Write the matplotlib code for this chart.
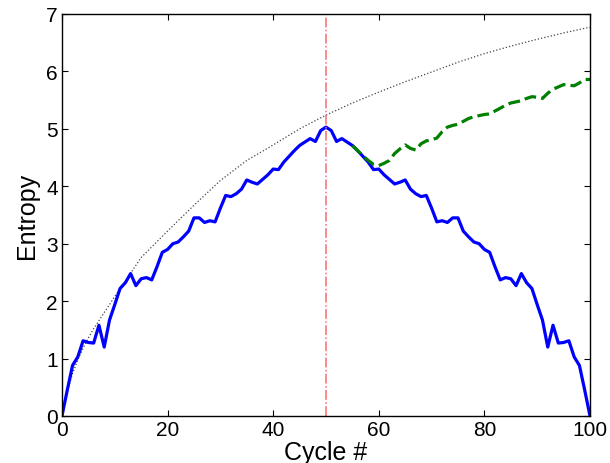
"""
Entropy vs cycle number: measured entropy (blue), continuation after
cycle 55 (green dashed), reference curve (dotted) and midpoint marker.
"""

import matplotlib

matplotlib.use("Agg")
import matplotlib.pyplot as plt

plt.rcParams["font.family"] = ["Liberation Sans", "DejaVu Sans"]

# blue entropy trace, one value per cycle 0..100
cycles = list(range(0, 101))
entropy = [
    0.00, 0.45, 0.88, 1.03, 1.31, 1.28, 1.27, 1.58, 1.20, 1.67,
    1.94, 2.22, 2.32, 2.48, 2.27, 2.39, 2.41, 2.37, 2.60, 2.85,
    2.90, 3.00, 3.03, 3.12, 3.22, 3.45, 3.45, 3.37, 3.40, 3.38,
    3.62, 3.84, 3.82, 3.87, 3.95, 4.11, 4.07, 4.04, 4.12, 4.20,
    4.30, 4.29, 4.42, 4.52, 4.62, 4.71, 4.77, 4.83, 4.78, 4.97,
    5.03,
    4.97, 4.78, 4.83, 4.77, 4.71, 4.62, 4.52, 4.42, 4.29, 4.30,
    4.20, 4.12, 4.04, 4.07, 4.11, 3.95, 3.87, 3.82, 3.84, 3.62,
    3.38, 3.40, 3.37, 3.45, 3.45, 3.22, 3.12, 3.03, 3.00, 2.90,
    2.85, 2.60, 2.37, 2.41, 2.39, 2.27, 2.48, 2.32, 2.22, 1.94,
    1.67, 1.20, 1.58, 1.27, 1.28, 1.31, 1.03, 0.88, 0.45, 0.00,
]

# green dashed continuation, cycles 55..100
cont_cycles = list(range(55, 101))
cont_entropy = [
    4.71, 4.62, 4.53, 4.45, 4.38, 4.36, 4.40, 4.45, 4.57, 4.65,
    4.72, 4.66, 4.63, 4.74, 4.79, 4.81, 4.84, 4.95, 5.03, 5.06,
    5.08, 5.13, 5.18, 5.21, 5.23, 5.25, 5.26, 5.31, 5.36, 5.41,
    5.45, 5.47, 5.49, 5.53, 5.56, 5.55, 5.53, 5.62, 5.69, 5.73,
    5.77, 5.76, 5.75, 5.80, 5.86, 5.86,
]

# dotted reference curve
ref_cycles = [0, 1, 2, 3, 4, 5, 6, 7, 8, 10, 12, 15, 20, 25, 30, 35, 40,
              45, 50, 55, 60, 65, 70, 75, 80, 85, 90, 95, 100]
ref_entropy = [0.00, 0.42, 0.74, 0.98, 1.18, 1.36, 1.52, 1.66, 1.80, 2.08,
               2.35, 2.76, 3.22, 3.67, 4.10, 4.45, 4.72, 5.00, 5.24, 5.45,
               5.64, 5.82, 5.99, 6.16, 6.31, 6.44, 6.56, 6.67, 6.77]

midpoint = 50

fig = plt.figure(figsize=(6.1, 4.64), dpi=100)
ax = fig.add_axes([0.1016, 0.1013, 0.8656, 0.8664])

ax.plot(ref_cycles, ref_entropy, color="#444444", linestyle=":", linewidth=0.9)
ax.plot(cycles, entropy, color="#0000ff", linewidth=2.3)
ax.plot(cont_cycles, cont_entropy, color="#008000", linestyle="--", linewidth=2.3)
ax.axvline(midpoint, color="#ff6a6a", linestyle="-.", linewidth=1.1)

ax.set_xlim(0, 100)
ax.set_ylim(0, 7)
ax.set_xticks([0, 20, 40, 60, 80, 100])
ax.set_yticks(range(0, 8))
ax.tick_params(direction="in", length=4, width=0.8, labelsize=15,
               top=True, right=True, pad=3)
for s in ax.spines.values():
    s.set_linewidth(1.0)

ax.set_xlabel("Cycle #", fontsize=18, labelpad=0.5)
ax.set_ylabel("Entropy", fontsize=18, labelpad=5)

fig.savefig("out.png", dpi=100)
